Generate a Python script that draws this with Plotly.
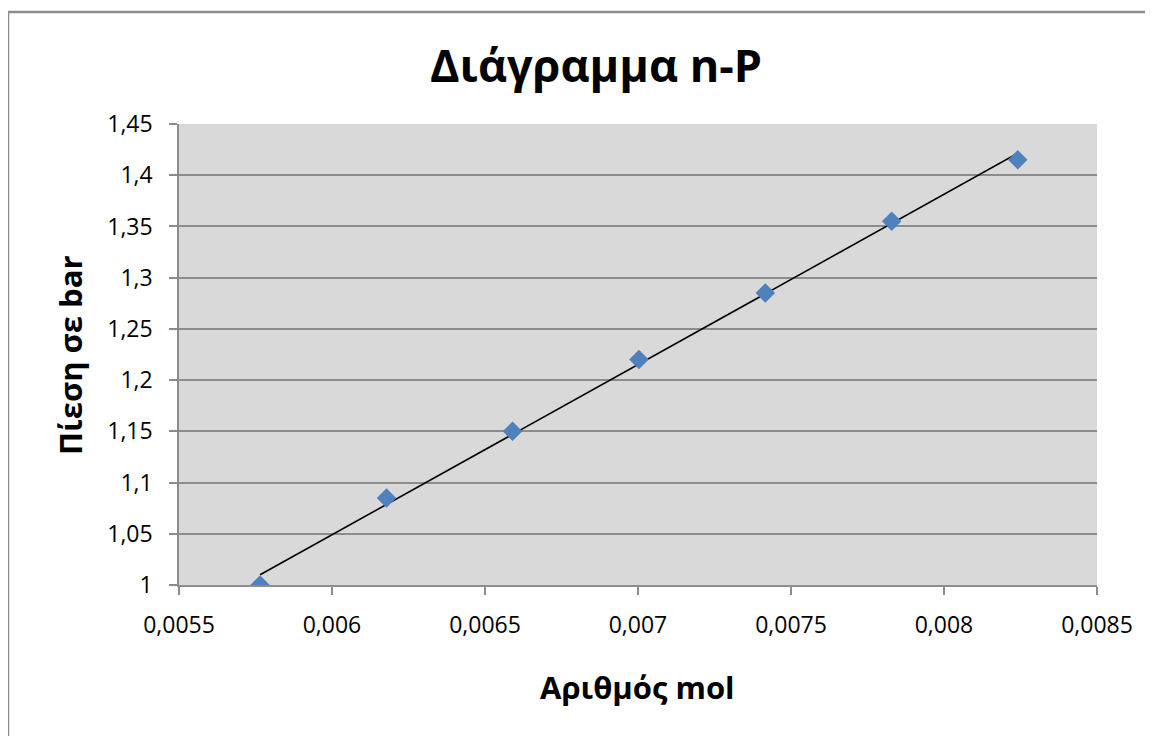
import numpy as np
import plotly.graph_objects as go

# Data
moles = [0.005765, 0.006178, 0.00659, 0.007003, 0.007416, 0.007829, 0.008241]
pressure = [1.0, 1.085, 1.15, 1.22, 1.285, 1.355, 1.415]

x_ticks = [0.0055, 0.006, 0.0065, 0.007, 0.0075, 0.008, 0.0085]
y_ticks = [1.0, 1.05, 1.1, 1.15, 1.2, 1.25, 1.3, 1.35, 1.4, 1.45]

title_text = "Διάγραμμα n-P"
x_title = "Αριθμός mol"
y_title = "Πίεση σε bar"


def fmt(v):
    return f"{v:g}".replace(".", ",")


# linear trendline (least squares) over the data range
slope, intercept = np.polyfit(moles, pressure, 1)
trend_x = [min(moles), max(moles)]
trend_y = [slope * v + intercept for v in trend_x]

# page has an 8px body margin; work in page pixels and convert
OFF = 8
W, H = 1153 - OFF, 736 - OFF
L, R, T, B = 179 - OFF, 1097 - OFF, 124 - OFF, 585 - OFF


def px(xp):
    return (xp - OFF - L) / (R - L)


def py(yp):
    return (B - (yp - OFF)) / (B - T)


FONT = "Open Sans, Noto Sans, DejaVu Sans, sans-serif"
grid_col = "#8C8C8C"

fig = go.Figure()
fig.add_trace(go.Scatter(
    x=trend_x, y=trend_y, mode="lines",
    line=dict(color="black", width=1.6),
    showlegend=False, hoverinfo="skip",
))
fig.add_trace(go.Scatter(
    x=moles, y=pressure, mode="markers",
    marker=dict(symbol="diamond", size=15, color="#4F81BD",
                line=dict(width=0)),
    showlegend=False,
))

border = dict(color="#8C8C8C", width=2.5)

fig.update_layout(
    width=W, height=H,
    margin=dict(l=L, r=W - R, t=T, b=H - B, pad=0),
    paper_bgcolor="white",
    plot_bgcolor="#D9D9D9",
    font=dict(family=FONT, color="black", size=23),
    showlegend=False,
    xaxis=dict(
        range=[x_ticks[0], x_ticks[-1]],
        tickvals=x_ticks, ticktext=[fmt(v) for v in x_ticks],
        showgrid=False, zeroline=False,
        showline=True, linecolor=grid_col, linewidth=1.5,
        ticks="outside", ticklen=8, tickcolor=grid_col, tickwidth=1.5,
        ticklabelstandoff=11,
        tickfont=dict(size=23),
    ),
    yaxis=dict(
        range=[y_ticks[0], y_ticks[-1]],
        tickvals=y_ticks, ticktext=[fmt(v) for v in y_ticks],
        showgrid=True, gridcolor=grid_col, gridwidth=1.5,
        zeroline=False,
        showline=True, linecolor=grid_col, linewidth=1.5,
        ticks="outside", ticklen=8, tickcolor=grid_col, tickwidth=1.5,
        ticklabelstandoff=12,
        tickfont=dict(size=23),
    ),
    title=dict(
        text=f"<b>{title_text}</b>",
        font=dict(family=FONT, size=45, color="black"),
        xref="container", x=(596 - OFF) / W, xanchor="center",
        yref="container", y=1 - (66 - OFF) / H, yanchor="middle",
    ),
    annotations=[
        dict(text=f"<b>{x_title}</b>", xref="paper", yref="paper",
             x=px(637), y=py(687),
             xanchor="center", yanchor="middle", showarrow=False,
             font=dict(family=FONT, size=31, color="black")),
        dict(text=f"<b>{y_title}</b>", xref="paper", yref="paper",
             x=px(70), y=py(355),
             xanchor="center", yanchor="middle", showarrow=False,
             textangle=-90,
             font=dict(family=FONT, size=31, color="black")),
    ],
    shapes=[
        # outer chart frame: only the top and left edges fall inside the picture
        dict(type="line", xref="paper", yref="paper",
             x0=px(8), x1=px(1153), y0=py(12), y1=py(12),
             line=border, layer="below"),
        dict(type="line", xref="paper", yref="paper",
             x0=px(8), x1=px(8), y0=py(12), y1=py(736),
             line=border, layer="below"),
    ],
)

fig.write_html("out.html")
